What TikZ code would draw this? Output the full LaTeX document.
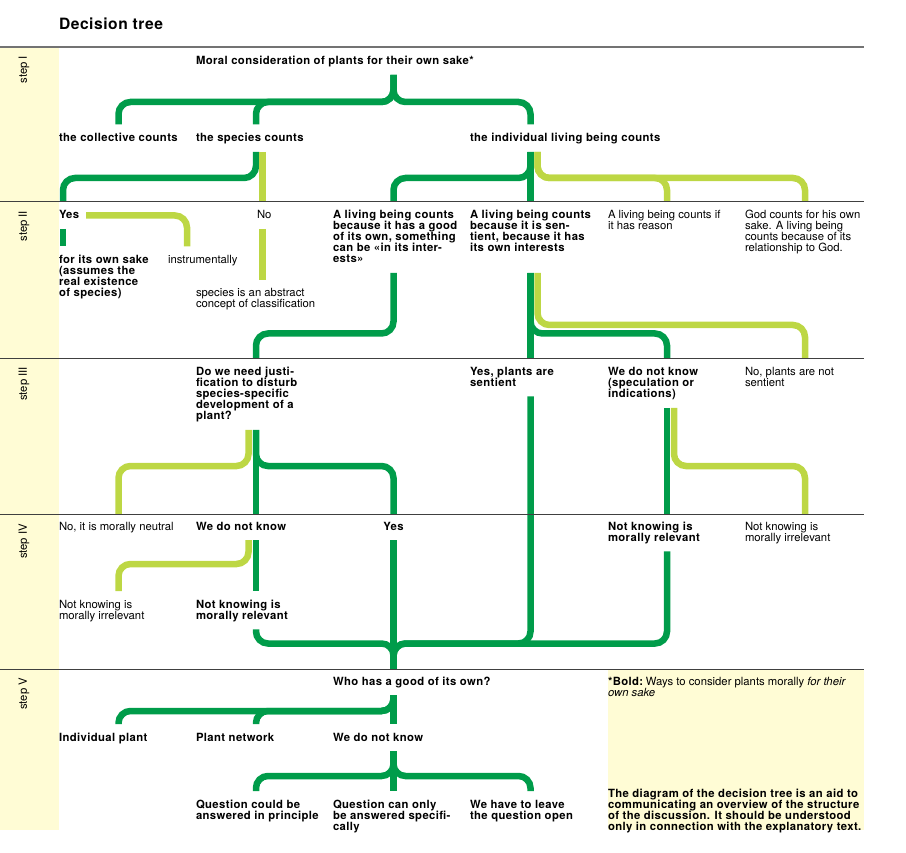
\documentclass[tikz,border=0pt]{standalone}
\usepackage{fontspec}
\setmainfont{TeX Gyre Heros}[BoldFeatures={LetterSpace=3.5}]
\definecolor{dkgreen}{HTML}{009C4A}
\definecolor{ltgreen}{HTML}{BDD744}
\definecolor{ylw}{HTML}{FFFCD5}
\newcommand{\tstrut}{\rule{0pt}{9pt}}
\newcommand{\bstrut}{\rule[-2pt]{0pt}{2pt}}

\begin{document}
\begin{tikzpicture}[x=1pt,y=-1pt]
    \tikzstyle{every node}=[font=\fontsize{11.3}{11}\selectfont, inner sep=0pt, outer xsep=0pt, outer ysep=8pt, align=left, anchor=north west]
    \tikzstyle{bt}=[font=\fontsize{11.3}{11}\selectfont\bfseries]
    \tikzstyle{dk}=[draw=dkgreen, line width=6.5pt, rounded corners=12pt]
    \tikzstyle{lt}=[draw=ltgreen, line width=6.5pt, rounded corners=12pt]
    \tikzstyle{sep}=[draw=black!75, line width=0.9pt]
    \tikzstyle{steplbl}=[rotate=90, anchor=east, outer ysep=0pt]

    \useasboundingbox (0,0) rectangle (906,853);
    \fill[ylw] (0,48) rectangle (59,830);
    \fill[ylw] (608,670) rectangle (864,830);

    \coordinate (r1) at (0,47);
    \coordinate (r2) at (0,201.5);
    \coordinate (r3) at (0,358);
    \coordinate (r4) at (0,514);
    \coordinate (r5) at (0,669.5);

    \coordinate (ca) at (63,0);
    \coordinate (cb) at (118.5,0);
    \coordinate (cc) at (187,0);
    \coordinate (cd0) at (248.5,0);
    \coordinate (cd) at (256,0);
    \coordinate (cd1) at (262.5,0);
    \coordinate (ce) at (393.5,0);
    \coordinate (cf) at (530.5,0);
    \coordinate (cf1) at (537.5,0);
    \coordinate (cg) at (667,0);
    \coordinate (cg1) at (674,0);
    \coordinate (ch) at (805,0);

    \node[anchor=base west, font=\fontsize{15.6}{18}\selectfont\bfseries] (title) at (59,30) {Decision tree};

    \foreach \s/\y in {I/56,II/211,III/367,IV/524,V/678}
        \node[steplbl] (step\s) at (24,\y) {step \s};

    % step I
    \node[bt] (moral) at (196,47.5) {\tstrut Moral consideration of plants for their own sake*\bstrut};
    \node[bt] (coll) at (59,124.5) {\tstrut the collective counts\bstrut};
    \node[bt] (spc) at (196,124.5) {\tstrut the species counts\bstrut};
    \node[bt] (ind) at (470,124.5) {\tstrut the individual living being counts\bstrut};

    % step II
    \node[bt] (yes2) at (59,202) {\tstrut Yes\bstrut};
    \node (no) at (257,202) {\tstrut No\bstrut};
    \node[bt] (good) at (333,202) {\tstrut A living being counts\\because it has a good\\of its own, something\\can be «in its inter-\\ests»\bstrut};
    \node[bt] (sent) at (470,202) {\tstrut A living being counts\\because it is sen-\\tient, because it has\\its own interests\bstrut};
    \node (reason) at (608,202) {\tstrut A living being counts if\\it has reason\bstrut};
    \node (god) at (745,202) {\tstrut God counts for his own\\sake. A living being\\counts because of its\\relationship to God.\bstrut};
    \node[bt] (sake) at (59,246.5) {\tstrut for its own sake\\(assumes the\\real existence\\of species)\bstrut};
    \node (instr) at (168,246.5) {\tstrut instrumentally\bstrut};
    \node (abstr) at (196,280) {\tstrut species is an abstract\\concept of classification\bstrut};

    % step III
    \node[bt] (dowe) at (196,358.5) {\tstrut Do we need justi-\\fication to disturb\\species-specific\\development of a\\plant?\bstrut};
    \node[bt] (yes3) at (470,358.5) {\tstrut Yes, plants are\\sentient\bstrut};
    \node[bt] (wedk3) at (608,358.5) {\tstrut We do not know\\(speculation or\\indications)\bstrut};
    \node (notsent) at (745,358.5) {\tstrut No, plants are not\\sentient\bstrut};

    % step IV
    \node (noneut) at (59,513) {\tstrut No, it is morally neutral\bstrut};
    \node[bt] (wedk4) at (196,513) {\tstrut We do not know\bstrut};
    \node[bt, anchor=north] (yes4) at (393.5,513) {\tstrut Yes\bstrut};
    \node[bt] (nkrel) at (608,513) {\tstrut Not knowing is\\morally relevant\bstrut};
    \node (nkirr) at (745,513) {\tstrut Not knowing is\\morally irrelevant\bstrut};
    \node (nkirr2) at (59,591) {\tstrut Not knowing is\\morally irrelevant\bstrut};
    \node[bt] (nkrel2) at (196,591) {\tstrut Not knowing is\\morally relevant\bstrut};

    % step V
    \node[bt] (who) at (333,668) {\tstrut Who has a good of its own?\bstrut};
    \node (note1) at (608,668) {\tstrut\textbf{*Bold:}\kern-2pt{} Ways to consider plants morally \textit{for their}\\\textit{own sake}\bstrut};
    \node[bt] (indiv) at (59,724) {\tstrut Individual plant\bstrut};
    \node[bt] (net) at (196,724) {\tstrut Plant network\bstrut};
    \node[bt] (wedk5) at (333,724) {\tstrut We do not know\bstrut};
    \node[bt] (qcould) at (196,791) {\tstrut Question could be\\answered in principle\bstrut};
    \node[bt] (qonly) at (333,791) {\tstrut Question can only\\be answered specifi-\\cally\bstrut};
    \node[bt] (leave) at (470,791) {\tstrut We have to leave\\the question open\bstrut};
    \node[bt] (note2) at (608,780) {\tstrut The diagram of the decision tree is an aid to\\communicating an overview of the structure\\of the discussion. It should be understood\\only in connection with the explanatory text.\bstrut};

    % branches
    \draw[dk] (ce |- moral.south) -- (393.5,102) -| (cb |- coll.north);
    \draw[dk] (ce |- moral.south) -- (393.5,102) -| (cd |- spc.north);
    \draw[dk] (ce |- moral.south) -- (393.5,102) -| (cf |- ind.north);
    \draw[dk] (cd |- spc.south) -- (256,178) -| (ca |- r2);
    \draw[lt] (cd1 |- spc.south) -- (cd1 |- r2);
    \draw[dk] (cf |- ind.south) -- (530.5,178) -| (ce |- r2);
    \draw[dk] (cf |- ind.south) -- (cf |- r2);
    \draw[lt] (cf1 |- ind.south) -- (537.5,178) -| (cg |- r2);
    \draw[lt] (cf1 |- ind.south) -- (537.5,178) -| (ch |- r2);

    \draw[dk] (ca |- yes2.south) -- (ca |- sake.north);
    \draw[lt, shorten <=7pt] (yes2.east) -| (cc |- instr.north);
    \draw[lt] (cd1 |- no.south) -- (cd1 |- abstr.north);
    \draw[dk] (ce |- good.south) -- (393.5,333.5) -| (cd |- r3);
    \draw[dk] (cf |- good.south) -- (cf |- r3);
    \draw[dk] (cf |- good.south) -- (530.5,333.5) -| (cg |- r3);
    \draw[lt] (cf1 |- good.south) -- (537.5,325) -| (ch |- r3);

    \draw[lt] (cd0 |- dowe.south) -- (248.5,466) -| (cb |- r4);
    \draw[dk] (cd |- dowe.south) -- (cd |- r4);
    \draw[dk] (cd |- dowe.south) -- (256,466) -| (ce |- r4);
    \draw[dk] (cf |- yes3.south) -- (530.5,643.5) -| (ce |- r5);
    \draw[dk] (cg |- wedk3.south) -- (cg |- r4);
    \draw[lt] (cg1 |- wedk3.south) -- (674,466) -| (ch |- r4);

    \draw[lt] (cd0 |- wedk4.south) -- (248.5,564) -| (cb |- nkirr2.north);
    \draw[dk] (cd |- wedk4.south) -- (cd |- nkrel2.north);
    \draw[dk] (cd |- nkrel2.south) -- (256,643.5) -| (ce |- r5);
    \draw[dk] (ce |- yes4.south) -- (ce |- r5);
    \draw[dk] (cg |- nkrel.south) -- (667,643.5) -| (ce |- r5);

    \draw[dk] (ce |- who.south) -- (393.5,711) -| (cb |- indiv.north);
    \draw[dk] (ce |- who.south) -- (393.5,711) -| (cd |- net.north);
    \draw[dk] (ce |- who.south) -- (ce |- wedk5.north);
    \draw[dk] (ce |- wedk5.south) -- (393.5,776) -| (cd |- qcould.north);
    \draw[dk] (ce |- wedk5.south) -- (ce |- qonly.north);
    \draw[dk] (ce |- wedk5.south) -- (393.5,776) -| (cf |- leave.north);

    % rules
    \draw[black!55, line width=1.5pt] (r1) -- ++(864,0);
    \foreach \r in {r2,r3,r4,r5}
        \draw[sep] (\r) -- ++(864,0);
\end{tikzpicture}
\end{document}
